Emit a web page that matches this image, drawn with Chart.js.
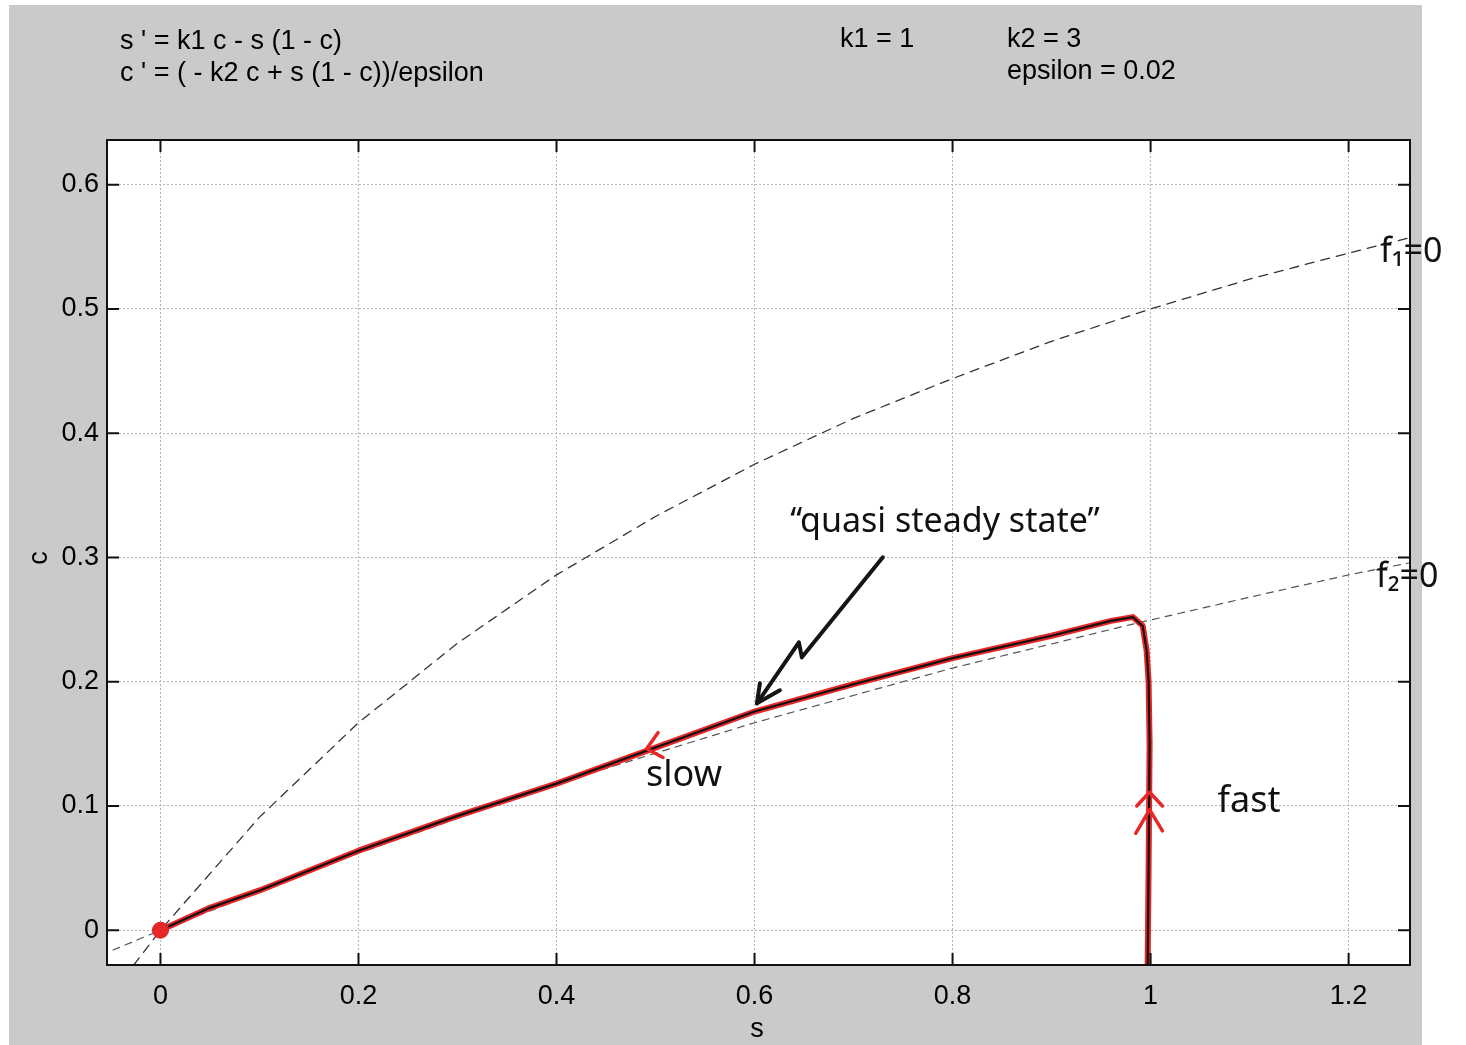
<!DOCTYPE html>
<html>
<head>
<meta charset="utf-8">
<script src="https://cdn.jsdelivr.net/npm/chart.js@4.4.1/dist/chart.umd.min.js"></script>
<style>
  html, body { margin: 0; padding: 0; background: #fff; }
  #wrap { width: 1466px; height: 1045px; }
</style>
</head>
<body>
<div id="wrap"><canvas id="myChart" width="1466" height="1045"></canvas></div>
<script>
// axis ticks
const sTicks = [0, 0.2, 0.4, 0.6, 0.8, 1, 1.2];
const sTickLabels = ['0', '0.2', '0.4', '0.6', '0.8', '1', '1.2'];
const cTicks = [0, 0.1, 0.2, 0.3, 0.4, 0.5, 0.6];
const cTickLabels = ['0', '0.1', '0.2', '0.3', '0.4', '0.5', '0.6'];

// nullcline f1 = 0
const f1S = [-0.027, 0, 0.1, 0.2, 0.3, 0.4, 0.5, 0.6, 0.7, 0.8, 0.9, 1.0, 1.1, 1.2, 1.27];
const f1C = [-0.028, 0, 0.091, 0.167, 0.231, 0.286, 0.333, 0.375, 0.412, 0.444, 0.474, 0.5, 0.524, 0.545, 0.559];

// nullcline f2 = 0
const f2S = [-0.06, 0, 0.2, 0.4, 0.6, 0.8, 0.98, 1.1, 1.2, 1.27];
const f2C = [-0.02, 0, 0.062, 0.118, 0.167, 0.211, 0.246, 0.268, 0.286, 0.297];

// trajectory (fast rise, then slow decay to origin)
const trajS = [0.997, 0.998, 0.999, 0.998, 0.996, 0.992, 0.982, 0.96, 0.9, 0.8, 0.7, 0.6, 0.5, 0.4, 0.3, 0.2, 0.1, 0.05, 0];
const trajC = [-0.03, 0.05, 0.15, 0.2, 0.225, 0.245, 0.252, 0.249, 0.237, 0.219, 0.198, 0.176, 0.147, 0.118, 0.092, 0.064, 0.032, 0.018, 0];

// hand-drawn marks
const pointerS = [0.7296, 0.6478, 0.6448, 0.6024];
const pointerC = [0.3001, 0.2196, 0.2317, 0.1826];
const pointerHeadS = [0.6054, 0.6024, 0.6256];
const pointerHeadC = [0.1987, 0.1826, 0.1931];
const slowHeadS = [0.5025, 0.491, 0.5076];
const slowHeadC = [0.159, 0.146, 0.139];
const fastHead1S = [0.986, 0.999, 1.012];
const fastHead1C = [0.1, 0.111, 0.1];
const fastHead2S = [0.985, 0.999, 1.012];
const fastHead2C = [0.078, 0.097, 0.08];

const pts = (xs, ys) => xs.map((x, i) => ({ x: x, y: ys[i] }));

const PLOT = { left: 107, top: 140, right: 1410, bottom: 965 };
const TEXT_FONT = '27px "Liberation Sans", Arial, sans-serif';
const HAND_FONT = '"Noto Sans", sans-serif';
const RED = 'rgb(232, 40, 40)';

const paperPlugin = {
    id: 'paper',
    beforeDraw(chart) {
        const c = chart.ctx;
        const a = chart.chartArea;
        c.save();
        c.fillStyle = '#ffffff';
        c.fillRect(0, 0, chart.width, chart.height);
        c.fillStyle = 'rgb(201, 203, 203)';
        c.fillRect(9, 5, 1413, 1040);
        c.fillStyle = '#ffffff';
        c.fillRect(a.left, a.top, a.right - a.left, a.bottom - a.top);
        c.restore();
    },
    afterDraw(chart) {
        const c = chart.ctx;
        const a = chart.chartArea;
        const xs = chart.scales.x;
        const ys = chart.scales.y;
        c.save();
        // frame
        c.strokeStyle = '#111';
        c.lineWidth = 2;
        c.strokeRect(a.left, a.top, a.right - a.left, a.bottom - a.top);
        // inside ticks
        c.beginPath();
        sTicks.forEach(v => {
            const px = xs.getPixelForValue(v);
            c.moveTo(px, a.bottom); c.lineTo(px, a.bottom - 12);
            c.moveTo(px, a.top); c.lineTo(px, a.top + 12);
        });
        cTicks.forEach(v => {
            const py = ys.getPixelForValue(v);
            c.moveTo(a.left, py); c.lineTo(a.left + 12, py);
            c.moveTo(a.right, py); c.lineTo(a.right - 12, py);
        });
        c.stroke();

        // header text
        c.fillStyle = '#000';
        c.font = TEXT_FONT;
        c.textBaseline = 'middle';
        c.textAlign = 'left';
        c.fillText("s ' = k1 c - s (1 - c)", 120, 42);
        c.fillText("c ' = ( - k2 c + s (1 - c))/epsilon", 120, 74);
        c.fillText('k1 = 1', 840, 40);
        c.fillText('k2 = 3', 1007, 40);
        c.fillText('epsilon = 0.02', 1007, 72);

        // axis titles
        c.textAlign = 'center';
        c.fillText('s', 757, 1030);
        c.save();
        c.translate(40, 558);
        c.rotate(-Math.PI / 2);
        c.fillText('c', 0, 0);
        c.restore();

        // handwritten notes
        c.fillStyle = '#111';
        c.font = '34px ' + HAND_FONT;
        c.fillText('\u2018\u2018quasi steady state\u201D', 945, 522);
        c.font = '36px ' + HAND_FONT;
        c.fillText('slow', 684, 776);
        c.fillText('fast', 1249, 802);
        c.textAlign = 'left';
        c.font = '34px ' + HAND_FONT;
        c.fillText('f\u2081=0', 1380, 252);
        c.fillText('f\u2082=0', 1376, 577);
        c.restore();
    }
};

const ctx = document.getElementById('myChart').getContext('2d');
const myChart = new Chart(ctx, {
    type: 'scatter',
    data: {
        datasets: [
            {
                label: 'f1 = 0',
                data: pts(f1S, f1C),
                borderColor: '#333',
                borderWidth: 1.3,
                borderDash: [9, 7],
                order: 6
            },
            {
                label: 'f2 = 0',
                data: pts(f2S, f2C),
                borderColor: '#555',
                borderWidth: 1.2,
                borderDash: [7, 6],
                order: 5
            },
            {
                label: 'trajectory (red)',
                data: pts(trajS, trajC),
                borderColor: RED,
                borderWidth: 6,
                order: 4
            },
            {
                label: 'trajectory',
                data: pts(trajS, trajC),
                borderColor: '#111',
                borderWidth: 2.2,
                order: 3
            },
            {
                label: 'pointer',
                data: pts(pointerS, pointerC),
                borderColor: '#151515',
                borderWidth: 4,
                order: 2
            },
            {
                label: 'pointer head',
                data: pts(pointerHeadS, pointerHeadC),
                borderColor: '#151515',
                borderWidth: 4,
                order: 2
            },
            {
                label: 'slow head',
                data: pts(slowHeadS, slowHeadC),
                borderColor: RED,
                borderWidth: 3.5,
                order: 1
            },
            {
                label: 'fast head 1',
                data: pts(fastHead1S, fastHead1C),
                borderColor: RED,
                borderWidth: 3.5,
                order: 1
            },
            {
                label: 'fast head 2',
                data: pts(fastHead2S, fastHead2C),
                borderColor: RED,
                borderWidth: 3.5,
                order: 1
            },
            {
                label: 'equilibrium',
                data: [{ x: 0, y: 0 }],
                showLine: false,
                pointRadius: 8,
                backgroundColor: RED,
                borderColor: 'rgb(210, 30, 30)',
                borderWidth: 1,
                order: 0
            }
        ]
    },
    options: {
        responsive: false,
        animation: false,
        layout: { padding: { top: PLOT.top, right: 1466 - PLOT.right, left: 0, bottom: 0 } },
        elements: {
            point: { radius: 0, hoverRadius: 0 },
            line: { tension: 0, fill: false, borderCapStyle: 'round', borderJoinStyle: 'round' }
        },
        datasets: { scatter: { showLine: true } },
        plugins: {
            legend: { display: false },
            tooltip: { enabled: false }
        },
        scales: {
            x: {
                type: 'linear',
                min: -0.054,
                max: 1.262,
                afterFit: (scale) => { scale.height = 1045 - PLOT.bottom; },
                afterBuildTicks: (scale) => { scale.ticks = sTicks.map(v => ({ value: v })); },
                grid: { color: '#b5b5b5', lineWidth: 1, drawTicks: false },
                border: { display: false, dash: [2, 2] },
                ticks: {
                    padding: 15,
                    color: '#000',
                    font: { size: 27, family: '"Liberation Sans", Arial, sans-serif' },
                    callback: (v, i) => sTickLabels[i]
                }
            },
            y: {
                type: 'linear',
                min: -0.028,
                max: 0.636,
                afterFit: (scale) => { scale.width = PLOT.left; },
                afterBuildTicks: (scale) => { scale.ticks = cTicks.map(v => ({ value: v })); },
                grid: { color: '#b5b5b5', lineWidth: 1, drawTicks: false },
                border: { display: false, dash: [2, 2] },
                ticks: {
                    padding: 8,
                    color: '#000',
                    font: { size: 27, family: '"Liberation Sans", Arial, sans-serif' },
                    callback: (v, i) => cTickLabels[i]
                }
            }
        }
    },
    plugins: [paperPlugin]
});
</script>
</body>
</html>
